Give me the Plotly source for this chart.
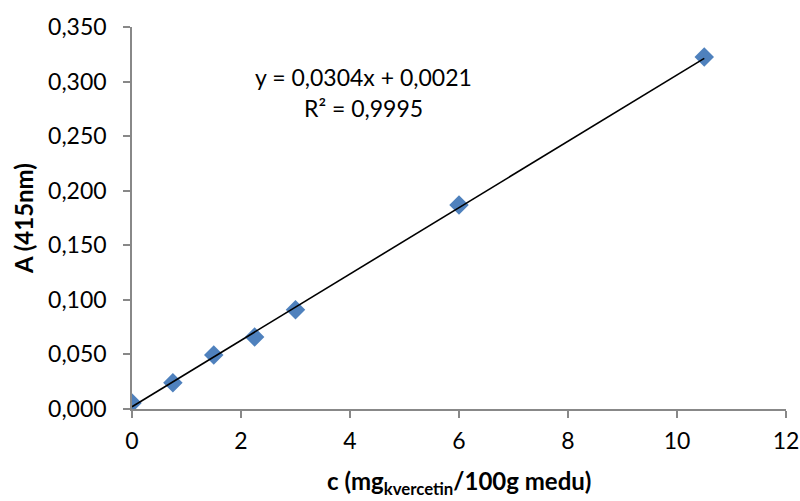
import plotly.graph_objects as go

conc = [0, 0.75, 1.5, 2.25, 3, 6, 10.5]
absorb = [0.0055, 0.024, 0.0495, 0.066, 0.091, 0.187, 0.3225]
slope = 0.0304
intercept = 0.0021
trend_x = [0, 10.5]
trend_y = [slope * x + intercept for x in trend_x]

x_title = "<b>c (mg<sub>kvercetin</sub>/100g medu)</b>"
y_title = "<b>A (415nm)</b>"
eq_text = "y = 0,0304x + 0,0021"
r2_text = "R² = 0,9995"

font = "Lato, 'Open Sans', sans-serif"

fig = go.Figure()
fig.add_trace(go.Scatter(x=conc, y=absorb, mode="markers",
                         marker=dict(symbol="diamond", size=15, color="#4F81BD",
                                     line=dict(width=0)),
                         showlegend=False))
fig.add_trace(go.Scatter(x=trend_x, y=trend_y, mode="lines",
                         line=dict(color="black", width=1.6), showlegend=False))

fig.update_layout(
    width=800, height=501,
    margin=dict(l=132, r=14, t=27, b=92),
    plot_bgcolor="white", paper_bgcolor="white",
    separators=", ",
    font=dict(family=font, size=23, color="black"),
    xaxis=dict(range=[0, 12], tickvals=[0, 2, 4, 6, 8, 10, 12], showgrid=False, zeroline=False,
               automargin=False,
               showline=True, linecolor="#888888", linewidth=1.5, ticks="outside",
               ticklen=7, tickcolor="#888888", tickwidth=1.5, ticklabelstandoff=4),
    yaxis=dict(range=[0, 0.35], tickvals=[0, 0.05, 0.1, 0.15, 0.2, 0.25, 0.3, 0.35], tickformat=".3f",
               showgrid=False, zeroline=False, automargin=False,
               showline=True, linecolor="#888888", linewidth=1.5, ticks="outside",
               ticklen=7, tickcolor="#888888", tickwidth=1.5, ticklabelstandoff=12),
)
fig.add_annotation(x=0.5, y=-0.192, xref="paper", yref="paper", showarrow=False,
                   xanchor="center", yanchor="middle", text=x_title, font=dict(size=24))
fig.add_annotation(x=-0.1667, y=0.5, xref="paper", yref="paper", showarrow=False,
                   xanchor="center", yanchor="middle", textangle=-90, text=y_title, font=dict(size=24))
fig.add_annotation(x=4.25, y=0.3045, xref="x", yref="y", showarrow=False,
                   text=eq_text, font=dict(size=23))
fig.add_annotation(x=4.25, y=0.2755, xref="x", yref="y", showarrow=False,
                   text=r2_text, font=dict(size=23))

fig.write_html("out.html")
